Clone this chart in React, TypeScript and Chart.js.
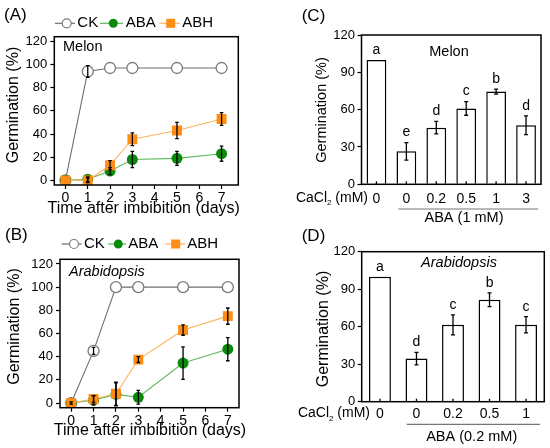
import React, { useEffect, useRef } from 'react';
import { Chart, registerables } from 'chart.js';

Chart.register(...registerables);

const FONT = "'Liberation Sans', Arial, sans-serif";
Chart.defaults.font.family = FONT;
Chart.defaults.color = '#000';

const W = 550;
const H = 448;

// ---------- data ----------
const days = [0, 1, 2, 3, 5, 7];
const dayTicks = [0, 1, 2, 3, 4, 5, 6, 7];
const lineYTicks = [0, 20, 40, 60, 80, 100, 120];
const barYTicks = [0, 30, 60, 90, 120];
const seriesNames = ['CK', 'ABA', 'ABH'];

const melonCK = [0, 94, 97, 97, 97, 97];
const melonCKErr = [0, 5, 0, 0, 0, 0];
const melonABA = [0, 1, 8, 18, 19, 23];
const melonABAErr = [0, 2, 3, 7, 6, 6.5];
const melonABH = [0, 0, 13, 35.5, 43, 53];
const melonABHErr = [0, 2, 4, 5.5, 7, 5.5];

const arabCK = [0, 45, 100, 100, 100, 100];
const arabCKErr = [0, 3, 0, 0, 0, 0];
const arabABA = [0, 2.5, 7.5, 5, 34.5, 46.5];
const arabABAErr = [1, 4, 10, 6, 14, 10];
const arabABH = [0, 3.5, 8, 37.5, 63, 75];
const arabABHErr = [0, 3, 10, 2.5, 4.5, 7];

const melonCaCl = ['0', '0', '0.2', '0.5', '1', '3'];
const melonGerm = [100, 26.5, 45.5, 61, 74.5, 47.5];
const melonGermErr = [0, 7, 5, 5.5, 2, 7.5];
const melonLetters = ['a', 'e', 'd', 'c', 'b', 'd'];

const arabCaCl = ['0', '0', '0.2', '0.5', '1'];
const arabGerm = [100, 34.5, 61.5, 81.5, 61.5];
const arabGermErr = [0, 5, 8, 5.5, 6.5];
const arabLetters = ['a', 'd', 'c', 'b', 'c'];

// ---------- styles ----------
const CK_LINE = '#6e6e6e';
const CK_PT = '#7a7a7a';
const ABA_LINE = '#5cb85c';
const ABA_PT = '#0a8a0a';
const ABH_LINE = '#ffb45e';
const ABH_PT = '#ff8c14';

const AXW = 40;
const AXH = 24;

type Area = { l: number; t: number; r: number; b: number };

function pad(a: Area) {
  return { left: a.l - AXW, top: a.t, right: W - a.r, bottom: H - a.b - AXH };
}

function text(
  ctx: CanvasRenderingContext2D,
  s: string,
  x: number,
  y: number,
  size: number,
  align: CanvasTextAlign = 'left',
  italic = false,
  rotate = false
) {
  ctx.save();
  ctx.font = `${italic ? 'italic ' : ''}${size}px ${FONT}`;
  ctx.fillStyle = '#000';
  ctx.textAlign = align;
  ctx.textBaseline = 'middle';
  if (rotate) {
    ctx.translate(x, y);
    ctx.rotate(-Math.PI / 2);
    ctx.fillText(s, 0, 0);
  } else {
    ctx.fillText(s, x, y);
  }
  ctx.restore();
}

function cacl(ctx: CanvasRenderingContext2D, xRight: number, y: number) {
  ctx.save();
  ctx.font = `14px ${FONT}`;
  const w1 = ctx.measureText('CaCl').width;
  const w3 = ctx.measureText(' (mM)').width;
  ctx.font = `8px ${FONT}`;
  const w2 = ctx.measureText('2').width;
  ctx.restore();
  const x = xRight - (w1 + w2 + w3);
  text(ctx, 'CaCl', x, y, 14);
  text(ctx, '2', x + w1, y + 5, 8);
  text(ctx, ' (mM)', x + w1 + w2, y, 14);
}

function errBar(ctx: CanvasRenderingContext2D, x: number, y1: number, y2: number, cap: number) {
  ctx.beginPath();
  ctx.moveTo(x, y1);
  ctx.lineTo(x, y2);
  ctx.moveTo(x - cap, y1);
  ctx.lineTo(x + cap, y1);
  ctx.moveTo(x - cap, y2);
  ctx.lineTo(x + cap, y2);
  ctx.stroke();
}

function frame(chart: any) {
  const { ctx, chartArea: a } = chart;
  ctx.save();
  ctx.strokeStyle = '#000';
  ctx.lineWidth = 1.5;
  ctx.strokeRect(a.left, a.top, a.right - a.left, a.bottom - a.top);
  ctx.restore();
}

type LegendItem = { x0: number; mx: number; x1: number; tx: number };

type LinePanel = {
  area: Area;
  xMin: number;
  xMax: number;
  ck: number[];
  ckErr: number[];
  aba: number[];
  abaErr: number[];
  abh: number[];
  abhErr: number[];
  label: string;
  labelPos: [number, number];
  species: string;
  speciesPos: [number, number];
  italic: boolean;
  yTitlePos: [number, number];
  xTitlePos: [number, number];
  legendY: number;
  legend: LegendItem[];
};

function makeLine(canvas: HTMLCanvasElement, p: LinePanel) {
  const toPts = (vals: number[]) => days.map((d, i) => ({ x: d, y: vals[i] }));
  const plugin = {
    id: 'annot' + p.label,
    afterDatasetsDraw(chart: any) {
      const { ctx } = chart;
      const xs = chart.scales.x;
      const ys = chart.scales.y;
      ctx.save();
      ctx.strokeStyle = '#000';
      ctx.lineWidth = 1.3;
      const sets: [number[], number[]][] = [
        [p.ck, p.ckErr],
        [p.aba, p.abaErr],
        [p.abh, p.abhErr],
      ];
      sets.forEach(([v, e]) => {
        days.forEach((d, i) => {
          if (e[i] > 0.5) {
            const x = xs.getPixelForValue(d);
            errBar(ctx, x, ys.getPixelForValue(v[i] + e[i]), ys.getPixelForValue(v[i] - e[i]), 1.8);
          }
        });
      });
      ctx.restore();
    },
    afterDraw(chart: any) {
      const { ctx } = chart;
      frame(chart);
      text(ctx, p.label, p.labelPos[0], p.labelPos[1], 17);
      text(ctx, p.species, p.speciesPos[0], p.speciesPos[1], 14.5, 'left', p.italic);
      text(ctx, 'Germination (%)', p.yTitlePos[0], p.yTitlePos[1], 16, 'center', false, true);
      text(ctx, 'Time after imbibition (days)', p.xTitlePos[0], p.xTitlePos[1], 16, 'center');
      // legend
      const lineCols = [CK_LINE, ABA_LINE, ABH_LINE];
      p.legend.forEach((it, k) => {
        const y = p.legendY;
        ctx.save();
        ctx.strokeStyle = lineCols[k];
        ctx.lineWidth = 1.2;
        ctx.beginPath();
        ctx.moveTo(it.x0, y);
        ctx.lineTo(it.x1, y);
        ctx.stroke();
        if (k === 0) {
          ctx.beginPath();
          ctx.arc(it.mx, y, 4.5, 0, Math.PI * 2);
          ctx.fillStyle = '#fff';
          ctx.fill();
          ctx.strokeStyle = CK_PT;
          ctx.lineWidth = 1.2;
          ctx.stroke();
        } else if (k === 1) {
          ctx.beginPath();
          ctx.arc(it.mx, y, 4.5, 0, Math.PI * 2);
          ctx.fillStyle = ABA_PT;
          ctx.fill();
        } else {
          ctx.fillStyle = ABH_PT;
          ctx.fillRect(it.mx - 4.5, y - 4.5, 9, 9);
        }
        ctx.restore();
        text(ctx, seriesNames[k], it.tx, y, 15);
      });
    },
  };
  return new Chart(canvas, {
    type: 'line',
    data: {
      datasets: [
        {
          label: seriesNames[0],
          data: toPts(p.ck),
          borderColor: CK_LINE,
          borderWidth: 1.1,
          pointStyle: 'circle',
          pointRadius: 5.5,
          pointBackgroundColor: '#fff',
          pointBorderColor: CK_PT,
          pointBorderWidth: 1.3,
          order: 3,
        },
        {
          label: seriesNames[1],
          data: toPts(p.aba),
          borderColor: ABA_LINE,
          borderWidth: 1.1,
          pointStyle: 'circle',
          pointRadius: 5.5,
          pointBackgroundColor: ABA_PT,
          pointBorderColor: ABA_PT,
          pointBorderWidth: 0,
          order: 2,
        },
        {
          label: seriesNames[2],
          data: toPts(p.abh),
          borderColor: ABH_LINE,
          borderWidth: 1.1,
          pointStyle: 'rect',
          pointRadius: 7,
          pointBackgroundColor: ABH_PT,
          pointBorderColor: ABH_PT,
          pointBorderWidth: 0,
          order: 1,
        },
      ],
    } as any,
    options: {
      responsive: false,
      animation: false,
      events: [],
      layout: { padding: pad(p.area) },
      plugins: { legend: { display: false }, tooltip: { enabled: false } },
      scales: {
        x: {
          type: 'linear',
          min: p.xMin,
          max: p.xMax,
          afterFit: (s: any) => {
            s.height = AXH;
          },
          afterBuildTicks: (s: any) => {
            s.ticks = dayTicks.map((v) => ({ value: v }));
          },
          grid: { drawOnChartArea: false, tickLength: 4, tickColor: '#000', tickWidth: 1.2 },
          border: { display: false },
          ticks: { color: '#000', font: { size: 14 }, padding: 1, maxRotation: 0, autoSkip: false },
        },
        y: {
          type: 'linear',
          min: -4,
          max: 124,
          afterFit: (s: any) => {
            s.width = AXW;
          },
          afterBuildTicks: (s: any) => {
            s.ticks = lineYTicks.map((v) => ({ value: v }));
          },
          grid: { drawOnChartArea: false, tickLength: 4, tickColor: '#000', tickWidth: 1.2 },
          border: { display: false },
          ticks: { color: '#000', font: { size: 13 }, padding: 3 },
        },
      },
    } as any,
    plugins: [plugin],
  });
}

type BarPanel = {
  area: Area;
  cats: string[];
  vals: number[];
  errs: number[];
  letters: string[];
  barPct: number;
  label: string;
  labelPos: [number, number];
  species: string;
  speciesPos: [number, number];
  italic: boolean;
  yTitlePos: [number, number];
  yTitleSize: number;
  caclRight: number;
  caclY: number;
  underline: [number, number, number];
  aba: string;
  abaPos: [number, number];
  tickPad: number;
};

function makeBar(canvas: HTMLCanvasElement, p: BarPanel) {
  const plugin = {
    id: 'annot' + p.label,
    afterDatasetsDraw(chart: any) {
      const { ctx } = chart;
      const ys = chart.scales.y;
      const meta = chart.getDatasetMeta(0);
      const a = chart.chartArea;
      ctx.save();
      ctx.strokeStyle = '#000';
      ctx.lineWidth = 1.3;
      meta.data.forEach((el: any, i: number) => {
        const x = el.x;
        ctx.beginPath();
        ctx.moveTo(x, a.bottom);
        ctx.lineTo(x, a.bottom - 3);
        ctx.stroke();
        if (p.errs[i] > 0.5) {
          errBar(ctx, x, ys.getPixelForValue(p.vals[i] + p.errs[i]), ys.getPixelForValue(p.vals[i] - p.errs[i]), 2);
        }
        const top = ys.getPixelForValue(p.vals[i] + p.errs[i]);
        text(ctx, p.letters[i], x, top - 10, 14, 'center');
      });
      ctx.restore();
    },
    afterDraw(chart: any) {
      const { ctx } = chart;
      frame(chart);
      text(ctx, p.label, p.labelPos[0], p.labelPos[1], 17);
      text(ctx, p.species, p.speciesPos[0], p.speciesPos[1], 14.5, 'center', p.italic);
      text(ctx, 'Germination (%)', p.yTitlePos[0], p.yTitlePos[1], p.yTitleSize, 'center', false, true);
      cacl(ctx, p.caclRight, p.caclY);
      ctx.save();
      ctx.strokeStyle = '#777';
      ctx.lineWidth = 1.2;
      ctx.beginPath();
      ctx.moveTo(p.underline[0], p.underline[2]);
      ctx.lineTo(p.underline[1], p.underline[2]);
      ctx.stroke();
      ctx.restore();
      text(ctx, p.aba, p.abaPos[0], p.abaPos[1], 14.5, 'center');
    },
  };
  return new Chart(canvas, {
    type: 'bar',
    data: {
      labels: p.cats,
      datasets: [
        {
          data: p.vals,
          backgroundColor: '#fff',
          borderColor: '#000',
          borderWidth: 1.5,
          barPercentage: p.barPct,
          categoryPercentage: 1,
        },
      ],
    },
    options: {
      responsive: false,
      animation: false,
      events: [],
      layout: { padding: pad(p.area) },
      plugins: { legend: { display: false }, tooltip: { enabled: false } },
      scales: {
        x: {
          afterFit: (s: any) => {
            s.height = AXH;
          },
          grid: { display: false, drawTicks: false },
          border: { display: false },
          ticks: { color: '#000', font: { size: 14 }, padding: p.tickPad, maxRotation: 0, autoSkip: false },
        },
        y: {
          min: 0,
          max: 120,
          afterFit: (s: any) => {
            s.width = AXW;
          },
          afterBuildTicks: (s: any) => {
            s.ticks = barYTicks.map((v) => ({ value: v }));
          },
          grid: { drawOnChartArea: false, tickLength: 4, tickColor: '#000', tickWidth: 1.2 },
          border: { display: false },
          ticks: { color: '#000', font: { size: 13 }, padding: 2.5 },
        },
      },
    } as any,
    plugins: [plugin],
  });
}

export default function App() {
  const refA = useRef<HTMLCanvasElement>(null);
  const refB = useRef<HTMLCanvasElement>(null);
  const refC = useRef<HTMLCanvasElement>(null);
  const refD = useRef<HTMLCanvasElement>(null);

  useEffect(() => {
    const charts: Chart[] = [];
    charts.push(
      makeLine(refA.current!, {
        area: { l: 54.3, t: 36.7, r: 238.3, b: 185 },
        xMin: -0.5,
        xMax: 7.75,
        ck: melonCK,
        ckErr: melonCKErr,
        aba: melonABA,
        abaErr: melonABAErr,
        abh: melonABH,
        abhErr: melonABHErr,
        label: '(A)',
        labelPos: [4, 15],
        species: 'Melon',
        speciesPos: [63, 46.7],
        italic: false,
        yTitlePos: [13.5, 105],
        xTitlePos: [143.7, 209],
        legendY: 23.3,
        legend: [
          { x0: 55, mx: 66.7, x1: 75, tx: 77.3 },
          { x0: 100, mx: 113.3, x1: 123.3, tx: 125.7 },
          { x0: 159.3, mx: 170.7, x1: 180, tx: 182.3 },
        ],
      })
    );
    charts.push(
      makeLine(refB.current!, {
        area: { l: 60, t: 259.3, r: 239, b: 407.7 },
        xMin: -0.5,
        xMax: 7.5,
        ck: arabCK,
        ckErr: arabCKErr,
        aba: arabABA,
        abaErr: arabABAErr,
        abh: arabABH,
        abhErr: arabABHErr,
        label: '(B)',
        labelPos: [5, 235],
        species: 'Arabidopsis',
        speciesPos: [69, 271.7],
        italic: true,
        yTitlePos: [14.5, 326.5],
        xTitlePos: [150, 431],
        legendY: 244,
        legend: [
          { x0: 61.7, mx: 74, x1: 81.7, tx: 84 },
          { x0: 108.3, mx: 118.3, x1: 126, tx: 128.3 },
          { x0: 165, mx: 175.7, x1: 185, tx: 187.3 },
        ],
      })
    );
    charts.push(
      makeBar(refC.current!, {
        area: { l: 361.5, t: 35, r: 541, b: 184.3 },
        cats: melonCaCl,
        vals: melonGerm,
        errs: melonGermErr,
        letters: melonLetters,
        barPct: 0.66,
        label: '(C)',
        labelPos: [301.7, 16.7],
        species: 'Melon',
        speciesPos: [449, 51.7],
        italic: false,
        yTitlePos: [321.7, 110],
        yTitleSize: 14.5,
        caclRight: 368,
        caclY: 197.7,
        underline: [398.3, 538.3, 209],
        aba: 'ABA (1 mM)',
        abaPos: [464, 218.3],
        tickPad: 6,
      })
    );
    charts.push(
      makeBar(refD.current!, {
        area: { l: 361.7, t: 251.7, r: 544.3, b: 401.7 },
        cats: arabCaCl,
        vals: arabGerm,
        errs: arabGermErr,
        letters: arabLetters,
        barPct: 0.6,
        label: '(D)',
        labelPos: [301.7, 236.7],
        species: 'Arabidopsis',
        speciesPos: [459, 263.3],
        italic: true,
        yTitlePos: [323.3, 329],
        yTitleSize: 16,
        caclRight: 370,
        caclY: 413.3,
        underline: [406.7, 540, 424.3],
        aba: 'ABA (0.2 mM)',
        abaPos: [471.7, 436.7],
        tickPad: 4,
      })
    );
    return () => charts.forEach((c) => c.destroy());
  }, []);

  const cs: React.CSSProperties = { position: 'absolute', left: 0, top: 0, width: W, height: H };
  return (
    <div style={{ position: 'fixed', left: 0, top: 0, width: W, height: H, background: '#fff', overflow: 'hidden' }}>
      <canvas ref={refA} width={W} height={H} style={cs} />
      <canvas ref={refB} width={W} height={H} style={cs} />
      <canvas ref={refC} width={W} height={H} style={cs} />
      <canvas ref={refD} width={W} height={H} style={cs} />
    </div>
  );
}
